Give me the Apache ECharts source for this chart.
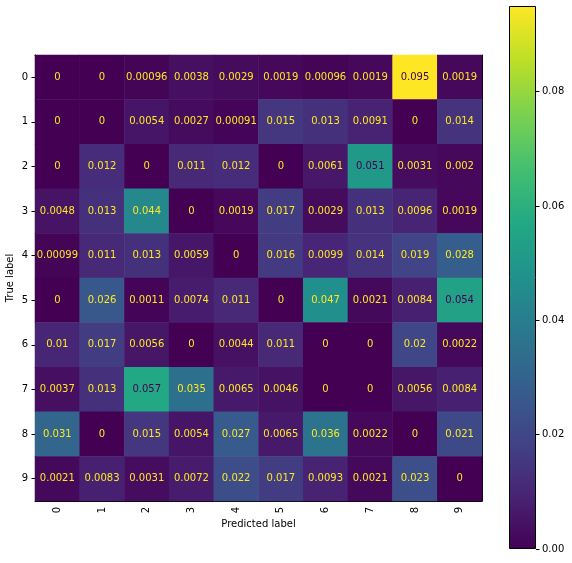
<!DOCTYPE html>
<html>
<head>
<meta charset="utf-8">
<script src="https://cdn.jsdelivr.net/npm/echarts@6/dist/echarts.min.js"></script>
<style>
  html, body { margin: 0; padding: 0; background: #fff; }
  #chart { width: 572px; height: 563px; }
</style>
</head>
<body>
<div id="chart"></div>
<script>
// class labels
var labels = ['0', '1', '2', '3', '4', '5', '6', '7', '8', '9'];
// rows = true label, cols = predicted label
var row0 = [0, 0, 0.00096, 0.0038, 0.0029, 0.0019, 0.00096, 0.0019, 0.095, 0.0019];
var row1 = [0, 0, 0.0054, 0.0027, 0.00091, 0.015, 0.013, 0.0091, 0, 0.014];
var row2 = [0, 0.012, 0, 0.011, 0.012, 0, 0.0061, 0.051, 0.0031, 0.002];
var row3 = [0.0048, 0.013, 0.044, 0, 0.0019, 0.017, 0.0029, 0.013, 0.0096, 0.0019];
var row4 = [0.00099, 0.011, 0.013, 0.0059, 0, 0.016, 0.0099, 0.014, 0.019, 0.028];
var row5 = [0, 0.026, 0.0011, 0.0074, 0.011, 0, 0.047, 0.0021, 0.0084, 0.054];
var row6 = [0.01, 0.017, 0.0056, 0, 0.0044, 0.011, 0, 0, 0.02, 0.0022];
var row7 = [0.0037, 0.013, 0.057, 0.035, 0.0065, 0.0046, 0, 0, 0.0056, 0.0084];
var row8 = [0.031, 0, 0.015, 0.0054, 0.027, 0.0065, 0.036, 0.0022, 0, 0.021];
var row9 = [0.0021, 0.0083, 0.0031, 0.0072, 0.022, 0.017, 0.0093, 0.0021, 0.023, 0];
var cbTicks = [0, 0.02, 0.04, 0.06, 0.08];

var rows = [row0, row1, row2, row3, row4, row5, row6, row7, row8, row9];
// viridis
var viridis = ['#440154', '#482475', '#414487', '#355f8d', '#2a788e', '#21918c',
               '#22a884', '#44bf70', '#7ad151', '#bddf26', '#fde725'];

var maxVal = 0;
rows.forEach(function (r) { r.forEach(function (v) { if (v > maxVal) maxVal = v; }); });
var thresh = maxVal / 2;

var cells = [];
for (var i = 0; i < rows.length; i++) {
  for (var j = 0; j < rows[i].length; j++) {
    var v = rows[i][j];
    cells.push({
      value: [j, i, v],
      label: { color: v > thresh ? viridis[0] : viridis[10] }
    });
  }
}

var stops = viridis.map(function (c, k) { return { offset: k / (viridis.length - 1), color: c }; });

var font = 'DejaVu Sans';
var myChart = echarts.init(document.getElementById('chart'));
var option = {
  animation: false,
  textStyle: { fontFamily: font },
  grid: [
    { left: 35, top: 55, width: 447, height: 446, containLabel: false, outerBoundsMode: 'none' },
    { left: 509, top: 6, width: 27, height: 543, containLabel: false, outerBoundsMode: 'none' }
  ],
  xAxis: [
    {
      type: 'category', data: labels, gridIndex: 0, position: 'bottom',
      name: 'Predicted label', nameLocation: 'middle', nameGap: 18, nameMoveOverlap: false,
      nameTextStyle: { color: '#000', fontSize: 10, fontFamily: font },
      axisLine: { lineStyle: { color: '#000', width: 1 } },
      axisTick: { alignWithLabel: true, length: 3.5, lineStyle: { color: '#000' } },
      axisLabel: { rotate: 90, color: '#000', fontSize: 10, fontFamily: font, margin: 6 },
      splitLine: { show: false }
    },
    {
      type: 'category', data: labels, gridIndex: 0, position: 'top',
      axisLine: { lineStyle: { color: '#000', width: 1 } },
      axisTick: { show: false }, axisLabel: { show: false }, splitLine: { show: false }
    },
    {
      type: 'category', data: ['cb'], gridIndex: 1,
      show: false
    }
  ],
  yAxis: [
    {
      type: 'category', data: labels, gridIndex: 0, inverse: true, position: 'left',
      name: 'True label', nameLocation: 'middle', nameGap: 20, nameRotate: 90, nameMoveOverlap: false,
      nameTextStyle: { color: '#000', fontSize: 10, fontFamily: font },
      axisLine: { show: true, lineStyle: { color: '#000', width: 1 } },
      axisTick: { show: true, alignWithLabel: true, length: 3.5, lineStyle: { color: '#000' } },
      axisLabel: { color: '#000', fontSize: 10, fontFamily: font, margin: 7 },
      splitLine: { show: false }
    },
    {
      type: 'category', data: labels, gridIndex: 0, inverse: true, position: 'right',
      axisLine: { lineStyle: { color: '#000', width: 1 } },
      axisTick: { show: false }, axisLabel: { show: false }, splitLine: { show: false }
    },
    {
      type: 'value', gridIndex: 1, position: 'right', min: 0, max: maxVal,
      axisLine: { show: false },
      axisTick: { show: true, length: 3.5, customValues: cbTicks, lineStyle: { color: '#000' } },
      axisLabel: {
        color: '#000', fontSize: 10, fontFamily: font, margin: 6,
        customValues: cbTicks,
        formatter: function (v) { return v.toFixed(2); }
      },
      splitLine: { show: false }
    }
  ],
  visualMap: {
    show: false, type: 'continuous', min: 0, max: maxVal, seriesIndex: 0, dimension: 2,
    inRange: { color: viridis }
  },
  series: [
    {
      type: 'heatmap', xAxisIndex: 0, yAxisIndex: 0, data: cells,
      label: {
        show: true, fontSize: 10, fontFamily: font,
        formatter: function (p) { return String(p.value[2]); }
      },
      emphasis: { disabled: true }
    },
    {
      type: 'bar', xAxisIndex: 2, yAxisIndex: 2, data: [maxVal], barWidth: '100%',
      silent: true,
      itemStyle: {
        color: new echarts.graphic.LinearGradient(0, 1, 0, 0, stops),
        borderColor: '#000', borderWidth: 1
      }
    }
  ]
};
myChart.setOption(option);
</script>
</body>
</html>
